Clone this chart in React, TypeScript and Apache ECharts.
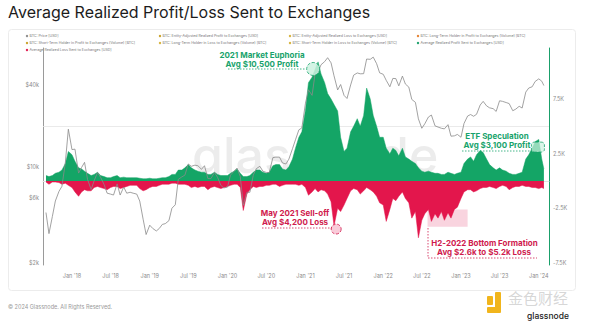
import React, { useEffect, useRef } from 'react';
import * as echarts from 'echarts';

// ---------- data (semi-monthly: 1st and 15th of each month, from Sep 2017) ----------
const START_YEAR = 2017;
const START_MONTH = 9; // September
const LAST_DATE = '2024-01-25';

const PRICE_USD = [
  // 2017 Sep-Dec
  4700, 3300, 4400, 5700, 6700, 7300, 10900, 19000,
  // 2018
  13500, 13600, 9100, 10000, 10900, 8200, 6900, 8000, 9200, 8500, 7500, 6500,
  6400, 6300, 7600, 6300, 7200, 6500, 6600, 6500, 6400, 5700, 4200, 3250,
  // 2019
  3800, 3600, 3450, 3600, 3850, 3900, 4100, 5050, 5350, 8200, 8550, 8800,
  10600, 10200, 10400, 10300, 9700, 10300, 8300, 8300, 9200, 8500, 7400, 7100,
  // 2020
  7200, 8800, 9400, 9900, 8600, 5300, 6600, 6600, 8800, 9800, 10200, 9400,
  9200, 9200, 11800, 11900, 11900, 10800, 10600, 11500, 13700, 15900, 18800, 19400,
  // 2021
  29400, 36800, 33500, 48000, 49600, 56000, 59000, 63000, 57800, 46500, 36700, 40200,
  33500, 31800, 39900, 47000, 48800, 48100, 48200, 61600, 61300, 63600, 57000, 48900,
  // 2022
  47700, 43100, 38700, 44500, 44400, 39300, 46300, 40500, 38500, 31300, 29800, 22600,
  19300, 20800, 23300, 24100, 20100, 19700, 19300, 19100, 20500, 16900, 17000, 17400,
  // 2023
  16600, 20900, 23700, 24300, 23600, 24400, 28500, 30300, 28100, 27200, 26800, 25600,
  30600, 30300, 29700, 29200, 25900, 26600, 27900, 27100, 35400, 37900, 38700, 42300,
  // 2024 Jan
  44200, 42500, 39500,
];

// thousands of USD
const AVG_PROFIT_K = [
  0.5, 0.4, 0.5, 0.7, 0.8, 1.0, 1.6, 2.7,
  2.4, 1.8, 1.2, 1.1, 0.9, 0.7, 0.5, 0.6, 0.8, 0.5, 0.4, 0.3,
  0.3, 0.4, 0.5, 0.3, 0.35, 0.3, 0.3, 0.3, 0.3, 0.25, 0.2, 0.2,
  0.25, 0.2, 0.2, 0.25, 0.3, 0.3, 0.4, 0.6, 0.6, 1.0, 1.0, 1.2,
  1.5, 1.2, 1.0, 0.9, 0.8, 0.8, 0.6, 0.6, 0.8, 0.6, 0.5, 0.5,
  0.5, 0.7, 0.9, 1.1, 0.7, 0.4, 0.4, 0.5, 0.8, 1.0, 1.0, 0.8,
  0.7, 0.8, 1.4, 1.5, 1.5, 1.1, 1.0, 1.3, 2.0, 3.0, 4.0, 4.5,
  6.5, 9.0, 9.5, 10.2, 10.9, 9.8, 9.0, 8.0, 7.5, 7.0, 6.4, 4.0,
  2.7, 3.0, 4.5, 5.0, 5.7, 5.0, 6.0, 8.5, 7.5, 6.0, 5.0, 4.0,
  4.0, 3.0, 2.5, 3.0, 2.8, 2.3, 3.0, 2.2, 2.0, 1.8, 1.6, 1.2,
  0.9, 0.8, 0.9, 0.8, 0.7, 0.7, 0.6, 0.6, 0.8, 0.7, 0.6, 0.7,
  0.8, 1.6, 2.0, 2.2, 1.8, 2.4, 2.8, 2.6, 2.0, 1.5, 1.2, 1.0,
  1.2, 1.0, 0.9, 0.7, 0.6, 0.6, 0.7, 0.8, 2.0, 2.4, 3.0, 3.6,
  3.8, 2.0, 1.1,
];

const AVG_LOSS_K = [
  -0.1, -0.3, -0.1, -0.1, -0.15, -0.3, -0.2, -0.4,
  -0.6, -1.0, -1.4, -1.0, -0.8, -0.9, -0.9, -0.6, -0.5, -0.6, -0.7, -0.8,
  -0.6, -0.5, -0.5, -0.7, -0.6, -0.5, -0.4, -0.4, -0.4, -0.7, -0.9, -0.8,
  -0.6, -0.5, -0.5, -0.4, -0.3, -0.3, -0.3, -0.2, -0.2, -0.3, -0.3, -0.3,
  -0.4, -0.6, -0.5, -0.6, -0.5, -0.5, -0.8, -0.6, -0.5, -0.6, -0.7, -0.6,
  -0.5, -0.4, -0.3, -0.3, -0.6, -2.7, -1.2, -0.8, -0.5, -0.6, -0.5, -0.5,
  -0.4, -0.4, -0.3, -0.3, -0.5, -0.4, -0.3, -0.3, -0.3, -0.3, -0.4, -0.3,
  -0.6, -1.3, -1.0, -0.7, -1.0, -0.8, -0.9, -1.2, -1.9, -4.1, -2.5, -2.8,
  -2.2, -1.6, -0.9, -0.7, -0.8, -1.2, -0.9, -0.6, -0.8, -1.0, -1.4, -2.0,
  -2.2, -3.7, -2.6, -1.6, -1.8, -1.4, -1.0, -1.6, -2.0, -3.4, -2.8, -5.2,
  -3.6, -3.0, -2.6, -3.7, -3.0, -3.4, -2.8, -3.6, -2.9, -3.4, -2.6, -2.4,
  -1.6, -1.0, -0.8, -0.8, -1.0, -0.9, -0.7, -0.6, -0.6, -0.5, -0.6, -0.7,
  -0.5, -0.4, -0.5, -0.8, -0.6, -0.5, -0.5, -0.4, -0.5, -0.5, -0.6, -0.6,
  -0.7, -0.6, -0.7,
];

const X_TICKS = [
  '2018-01-01', '2018-07-01', '2019-01-01', '2019-07-01', '2020-01-01', '2020-07-01',
  '2021-01-01', '2021-07-01', '2022-01-01', '2022-07-01', '2023-01-01', '2023-07-01', '2024-01-01',
];
const X_TICK_LABELS = [
  "Jan '18", "Jul '18", "Jan '19", "Jul '19", "Jan '20", "Jul '20",
  "Jan '21", "Jul '21", "Jan '22", "Jul '22", "Jan '23", "Jul '23", "Jan '24",
];
const X_MIN = '2017-08-18';
const X_MAX = '2024-02-18';

const LEFT_TICKS = [2000, 6000, 10000, 40000];
const LEFT_TICK_LABELS = ['$2k', '$6k', '$10k', '$40k'];
const PRICE_GRID_LINE = 20000;
const RIGHT_TICKS = [-7.5, -2.5, 2.5, 7.5];
const RIGHT_TICK_LABELS = ['-7.5K', '-2.5K', '2.5K', '7.5K'];

const LEGEND_NAMES = [
  'BTC: Price [USD]',
  'BTC: Entity-Adjusted Realized Profit to Exchanges [USD]',
  'BTC: Entity-Adjusted Realized Loss to Exchanges [USD]',
  'BTC: Long-Term Holder in Profit to Exchanges (Volume) [BTC]',
  'BTC: Short-Term Holder in Profit to Exchanges (Volume) [BTC]',
  'BTC: Long-Term Holder in Loss to Exchanges (Volume) [BTC]',
  'BTC: Short-Term Holder in Loss to Exchanges (Volume) [BTC]',
  'Average Realized Profit Sent to Exchanges [USD]',
  'Average Realized Loss Sent to Exchanges [USD]',
];
const LEGEND_COLORS = ['#8c8c8c', '#c9a227', '#d6b33c', '#e5812f', '#c9a227', '#d6b33c', '#d6b33c', '#1aa06b', '#e0174f'];

// ---------- styling ----------
const GREEN = '#14a566';
const GREEN_TEXT = '#18a36c';
const RED = '#e3164c';
const RED_TEXT = '#cf1a4d';
const FONT = 'Inter, Roboto, "Noto Sans", sans-serif';

const ts = (d: string) => new Date(d + 'T00:00:00Z').getTime();

function buildDates(): string[] {
  const out: string[] = [];
  let y = START_YEAR;
  let m = START_MONTH;
  while (out.length < PRICE_USD.length - 1) {
    const mm = String(m).padStart(2, '0');
    out.push(`${y}-${mm}-01`);
    out.push(`${y}-${mm}-15`);
    m += 1;
    if (m > 12) { m = 1; y += 1; }
  }
  out.push(LAST_DATE);
  return out;
}

function nearestLabel(v: number, ticks: number[], labels: string[]) {
  let best = 0;
  ticks.forEach((t, i) => { if (Math.abs(t - v) < Math.abs(ticks[best] - v)) best = i; });
  return labels[best];
}

export default function App() {
  const ref = useRef<HTMLDivElement>(null);

  useEffect(() => {
    if (!ref.current) return;
    const chart = echarts.init(ref.current, undefined, { renderer: 'svg' });
    const dates = buildDates().map(ts);
    const priceData = dates.map((d, i) => [d, Math.log10(PRICE_USD[i])]);
    const profitData = dates.map((d, i) => [d, AVG_PROFIT_K[i]]);
    const lossData = dates.map((d, i) => [d, AVG_LOSS_K[i]]);
    const xTickVals = X_TICKS.map(ts);
    const leftTickVals = LEFT_TICKS.map((v) => Math.log10(v));

    const legendCols = [27, 160, 290, 418];
    const legendRows = [36, 43, 50];
    const legendEls: any[] = [];
    LEGEND_NAMES.forEach((name, i) => {
      const x = legendCols[i % 4];
      const y = legendRows[Math.floor(i / 4)];
      legendEls.push({ type: 'circle', shape: { cx: x, cy: y, r: 1.2 }, style: { fill: LEGEND_COLORS[i] }, silent: true });
      legendEls.push({
        type: 'text', x: x + 2.5, y, silent: true,
        style: { text: name, fontSize: 3.6, fontFamily: FONT, fill: '#777', verticalAlign: 'middle' },
      });
    });

    const dotted = (x1: number, y1: number, x2: number, y2: number, color: string) => ({
      type: 'line', silent: true, z: 10,
      shape: { x1, y1, x2, y2 },
      style: { stroke: color, lineWidth: 0.8, lineDash: [1.5, 1.5] },
    });
    const label = (text: string, x: number, y: number, color: string) => ({
      type: 'text', x, y, silent: true, z: 10,
      style: { text, fontSize: 8, fontWeight: 700, fontFamily: FONT, fill: color, align: 'center', verticalAlign: 'middle' },
    });

    chart.setOption({
      animation: false,
      backgroundColor: '#ffffff',
      textStyle: { fontFamily: FONT },
      grid: { left: 43, right: 51, top: 48, bottom: 57 },
      xAxis: {
        type: 'value',
        min: ts(X_MIN),
        max: ts(X_MAX),
        axisLine: { show: true, lineStyle: { color: '#e2e2e2', width: 1 } },
        axisTick: { show: false },
        splitLine: { show: false },
        axisLabel: {
          customValues: xTickVals,
          formatter: (v: number) => nearestLabel(v, xTickVals, X_TICK_LABELS),
          fontSize: 5.5, color: '#8a8a8a', margin: 8,
        },
      },
      yAxis: [
        {
          type: 'value',
          min: 3.29,
          max: 4.87,
          position: 'left',
          axisLine: { show: true, lineStyle: { color: '#9a9a9a', width: 1 } },
          axisTick: { show: false },
          splitLine: { show: false },
          axisLabel: {
            customValues: leftTickVals,
            formatter: (v: number) => nearestLabel(v, leftTickVals, LEFT_TICK_LABELS),
            fontSize: 5.5, color: '#8a8a8a', margin: 4,
          },
        },
        {
          type: 'value',
          min: -7.69,
          max: 12.17,
          position: 'right',
          axisLine: { show: true, lineStyle: { color: '#1aa06b', width: 1 } },
          axisTick: { show: false },
          splitLine: { show: false },
          axisLabel: {
            customValues: RIGHT_TICKS,
            formatter: (v: number) => nearestLabel(v, RIGHT_TICKS, RIGHT_TICK_LABELS),
            fontSize: 5.5, color: '#8a8a8a', margin: 4,
          },
        },
      ],
      series: [
        {
          name: 'Average Realized Profit Sent to Exchanges [USD]',
          type: 'line',
          yAxisIndex: 1,
          data: profitData,
          showSymbol: false,
          symbol: 'none',
          lineStyle: { width: 0.5, color: GREEN },
          areaStyle: { color: GREEN, opacity: 1 },
          z: 2,
          markPoint: {
            silent: true,
            label: { show: false },
            data: [
              {
                coord: [ts('2021-02-06'), 10.25], symbol: 'circle', symbolSize: 13,
                itemStyle: { color: 'rgba(205,242,224,0.85)', borderColor: GREEN_TEXT, borderWidth: 0.8, borderType: 'dashed' },
              },
              {
                coord: [ts('2023-12-28'), 3.1], symbol: 'roundRect', symbolSize: [13, 10],
                itemStyle: { color: 'rgba(205,242,224,0.7)', borderColor: GREEN_TEXT, borderWidth: 0.8, borderType: 'dashed' },
              },
            ],
          },
        },
        {
          name: 'Average Realized Loss Sent to Exchanges [USD]',
          type: 'line',
          yAxisIndex: 1,
          data: lossData,
          showSymbol: false,
          symbol: 'none',
          lineStyle: { width: 0.5, color: RED },
          areaStyle: { color: RED, opacity: 1 },
          z: 2,
          markArea: {
            silent: true,
            itemStyle: { color: 'rgba(244,170,192,0.5)' },
            data: [[{ xAxis: ts('2022-07-28'), yAxis: -2.6 }, { xAxis: ts('2023-02-01'), yAxis: -4.2 }]],
          },
          markPoint: {
            silent: true,
            label: { show: false },
            data: [
              {
                coord: [ts('2021-05-25'), -4.4], symbol: 'circle', symbolSize: 10,
                itemStyle: { color: 'rgba(248,190,208,0.8)', borderColor: RED_TEXT, borderWidth: 0.8, borderType: 'dashed' },
              },
            ],
          },
        },
        {
          name: 'BTC: Price [USD]',
          type: 'line',
          yAxisIndex: 0,
          data: priceData,
          showSymbol: false,
          symbol: 'none',
          lineStyle: { width: 0.8, color: '#8a8a8a' },
          z: 4,
          markLine: {
            silent: true,
            symbol: 'none',
            label: { show: false },
            lineStyle: { color: '#e4e4e4', width: 0.8, type: 'solid' },
            data: [{ yAxis: Math.log10(PRICE_GRID_LINE) }],
            z: 1,
          },
        },
      ],
      graphic: [
        {
          type: 'rect', z: -10, silent: true,
          shape: { x: 8.5, y: 29.5, width: 567, height: 261, r: 3 },
          style: { fill: '#ffffff', stroke: '#ececec', lineWidth: 1 },
        },
        {
          type: 'text', x: 8, y: 12, silent: true,
          style: { text: 'Average Realized Profit/Loss Sent to Exchanges', fontSize: 16, fontFamily: FONT, fill: '#1c1c1c', verticalAlign: 'middle' },
        },
        {
          type: 'text', x: 192, y: 155, silent: true, z: -5,
          style: { text: 'glassnode', fontSize: 50, fontWeight: 500, fontFamily: FONT, fill: 'rgba(150,150,150,0.18)', verticalAlign: 'middle' },
        },
        ...legendEls,
        label('2021 Market Euphoria', 262, 55, GREEN_TEXT),
        label('Avg $10,500 Profit', 262, 64, GREEN_TEXT),
        dotted(228, 69, 306, 69, GREEN_TEXT),
        label('May 2021 Sell-off', 295, 213, RED_TEXT),
        label('Avg $4,200 Loss', 295, 222, RED_TEXT),
        dotted(262, 228, 332, 228, RED_TEXT),
        label('ETF Speculation', 497, 136, GREEN_TEXT),
        label('Avg $3,100 Profit', 497, 145, GREEN_TEXT),
        dotted(462, 151, 531, 151, GREEN_TEXT),
        label('H2-2022 Bottom Formation', 484.5, 243, RED_TEXT),
        label('Avg $2.6k to $5.2k Loss', 484, 252, RED_TEXT),
        dotted(428, 228, 428, 258, RED_TEXT),
        dotted(428, 258, 537, 258, RED_TEXT),
        {
          type: 'text', x: 8, y: 307, silent: true,
          style: { text: '© 2024 Glassnode. All Rights Reserved.', fontSize: 5.5, fontFamily: FONT, fill: '#9a9a9a', verticalAlign: 'middle' },
        },
        { type: 'rect', silent: true, shape: { x: 487, y: 296, width: 6, height: 9, r: 1 }, style: { fill: '#f1b51c' } },
        { type: 'rect', silent: true, shape: { x: 495, y: 292, width: 6, height: 20, r: 1 }, style: { fill: '#f1b51c' } },
        { type: 'rect', silent: true, shape: { x: 487, y: 307, width: 14, height: 6, r: 1 }, style: { fill: '#f1b51c' } },
        {
          type: 'text', x: 508, y: 297, silent: true,
          style: { text: '金色财经', fontSize: 15, fontFamily: '"Noto Sans CJK SC", sans-serif', fill: 'rgba(180,180,180,0.55)', verticalAlign: 'middle' },
        },
        {
          type: 'text', x: 527, y: 316, silent: true,
          style: { text: 'glassnode', fontSize: 8.5, fontWeight: 500, fontFamily: FONT, fill: '#222', verticalAlign: 'middle' },
        },
      ],
    });

    return () => chart.dispose();
  }, []);

  return <div ref={ref} style={{ position: 'fixed', left: 0, top: 0, width: 600, height: 322 }} />;
}
